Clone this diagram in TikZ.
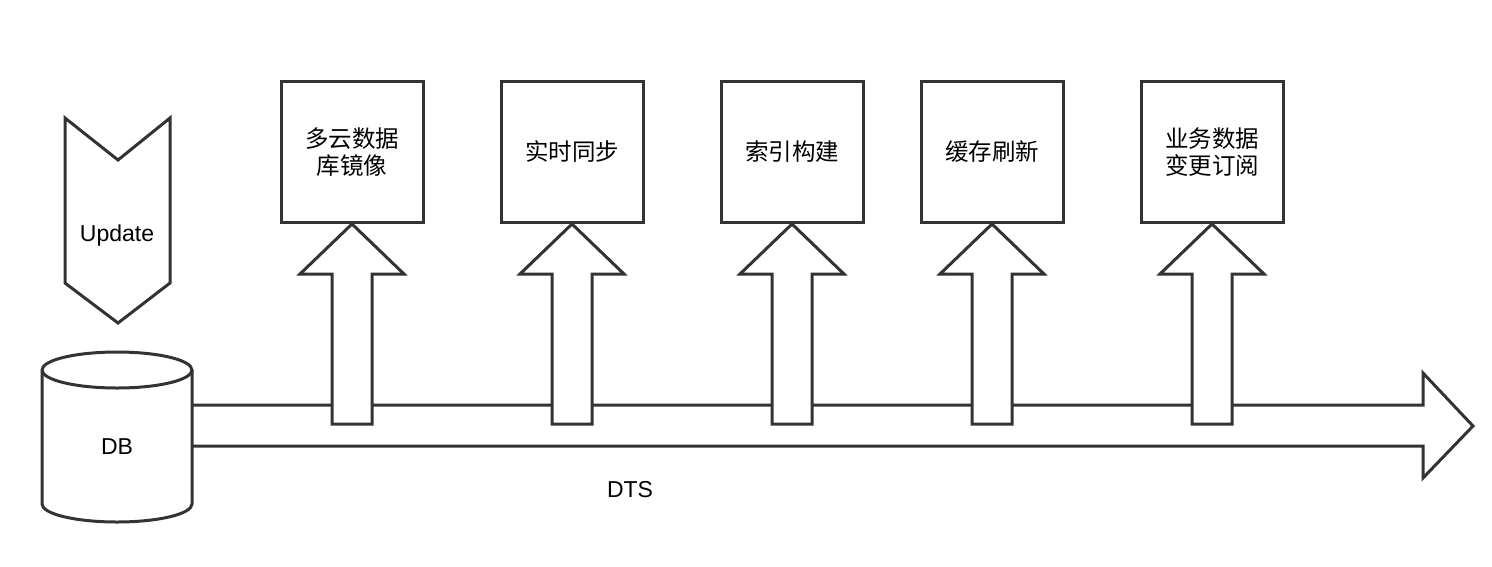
\documentclass[tikz,border=0pt]{standalone}
\usepackage{fontspec}
\setmainfont{Liberation Sans}
\newfontfamily\cjk{Noto Sans CJK SC}
\usetikzlibrary{calc}
\definecolor{ln}{HTML}{333333}
\tikzset{
  shp/.style={draw=ln, line width=3pt, line join=miter, fill=white},
  lbl/.style={font=\fontsize{23}{28}\selectfont, text=black, align=center},
  box/.style={draw=ln, line width=3pt, fill=white, minimum width=142pt, minimum height=141pt, inner sep=0pt, align=center, font=\cjk\fontsize{23.5}{27}\selectfont}
}
\begin{document}
\begin{tikzpicture}[x=1pt,y=-1pt]
\useasboundingbox (0,0) rectangle (1492,566);
% DTS arrow
\coordinate (dtsA) at (192,405);
\coordinate (dtsB) at (192,446);
\draw[shp] (dtsA) -- (1423,405) -- (1423,373) -- (1473,426) -- (1423,478) -- (1423,446) -- (dtsB);
\node[lbl] (dts) at (630,490) {DTS};
% Update chevron
\draw[shp] (65,118) -- (118,160) -- (170,118) -- (170,283) -- (118,323) -- (65,283) -- cycle;
\node[lbl] (upd) at (117,236) {Update};
% DB cylinder
\draw[shp] (42,370) -- (42,504) arc[start angle=180, end angle=0, x radius=75, y radius=18] -- (192,370) arc[start angle=0, end angle=-180, x radius=75, y radius=18] -- cycle;
\draw[shp, fill=none] (42,370) arc[start angle=180, end angle=0, x radius=75, y radius=18];
\node[lbl] (db) at (117,447) {DB};
% boxes
\node[box] (b1) at (352,152) {多云数据\\库镜像};
\node[box] (b2) at (572,152) {实时同步};
\node[box] (b3) at (792,152) {索引构建};
\node[box] (b4) at (992,152) {缓存刷新};
\node[box] (b5) at (1212,152) {业务数据\\变更订阅};
% up arrows
\foreach \b in {b1,b2,b3,b4,b5}{
  \draw[shp] ($(\b.south)+(-20,200)$) -- ($(\b.south)+(-20,50)$) -- ($(\b.south)+(-52,50)$) -- (\b.south) -- ($(\b.south)+(52,50)$) -- ($(\b.south)+(20,50)$) -- ($(\b.south)+(20,200)$) -- cycle;
}
\end{tikzpicture}
\end{document}
